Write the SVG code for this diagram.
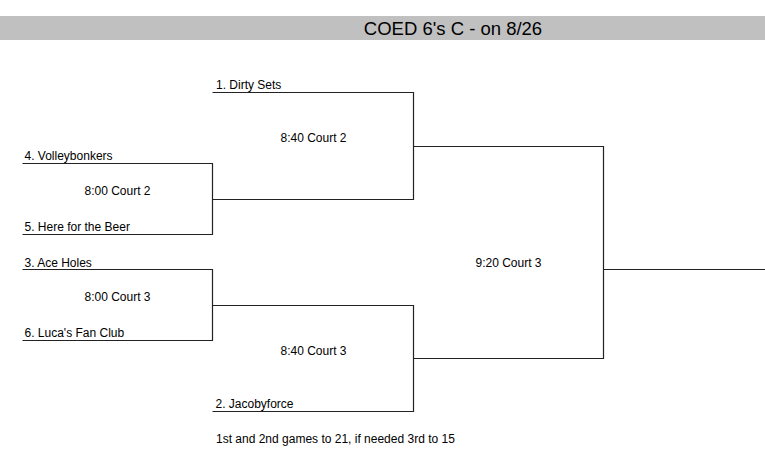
<svg xmlns="http://www.w3.org/2000/svg" width="765" height="459" viewBox="0 0 765 459">
<style>
text{font-family:"Liberation Sans",Arial,sans-serif;fill:#000}
.t{font-size:12px}
.c{font-size:12px;text-anchor:middle}
.ln{stroke:#222;stroke-width:1.2;fill:none}
</style>
<g id="header">
<rect x="0" y="16" width="765" height="24" fill="#c0c0c0"/>
<text x="453" y="34.5" font-size="18.5" text-anchor="middle">COED 6's C - on 8/26</text>
</g>
<g id="team1"><text class="t" x="216" y="89">1. Dirty Sets</text></g>
<g id="team4"><text class="t" x="24.5" y="160">4. Volleybonkers</text></g>
<g id="team5"><text class="t" x="24.5" y="231">5. Here for the Beer</text></g>
<g id="team3"><text class="t" x="24.5" y="266.5">3. Ace Holes</text></g>
<g id="team6"><text class="t" x="24.5" y="337">6. Luca's Fan Club</text></g>
<g id="team2"><text class="t" x="215.5" y="407.5">2. Jacobyforce</text></g>
<g id="game1"><text class="c" x="117.5" y="195">8:00 Court 2</text></g>
<g id="game2"><text class="c" x="117.5" y="301">8:00 Court 3</text></g>
<g id="game3"><text class="c" x="313.5" y="142">8:40 Court 2</text></g>
<g id="game4"><text class="c" x="313.5" y="355">8:40 Court 3</text></g>
<g id="game5"><text class="c" x="508.5" y="267">9:20 Court 3</text></g>
<g id="note"><text class="t" x="216" y="443">1st and 2nd games to 21, if needed 3rd to 15</text></g>
<g id="connectors" class="ln">
<path d="M22.5 163.5H212.5V234.5H22.5"/>
<path d="M22.5 269.5H212.5V340.5H22.5"/>
<path d="M212.5 92.5H413.5V199.5H212.5"/>
<path d="M212.5 305.5H413.5V411.5H212.5"/>
<path d="M413.5 146.5H603.5V358.5H413.5"/>
<path d="M603.5 269.5H765"/>
</g>
</svg>
